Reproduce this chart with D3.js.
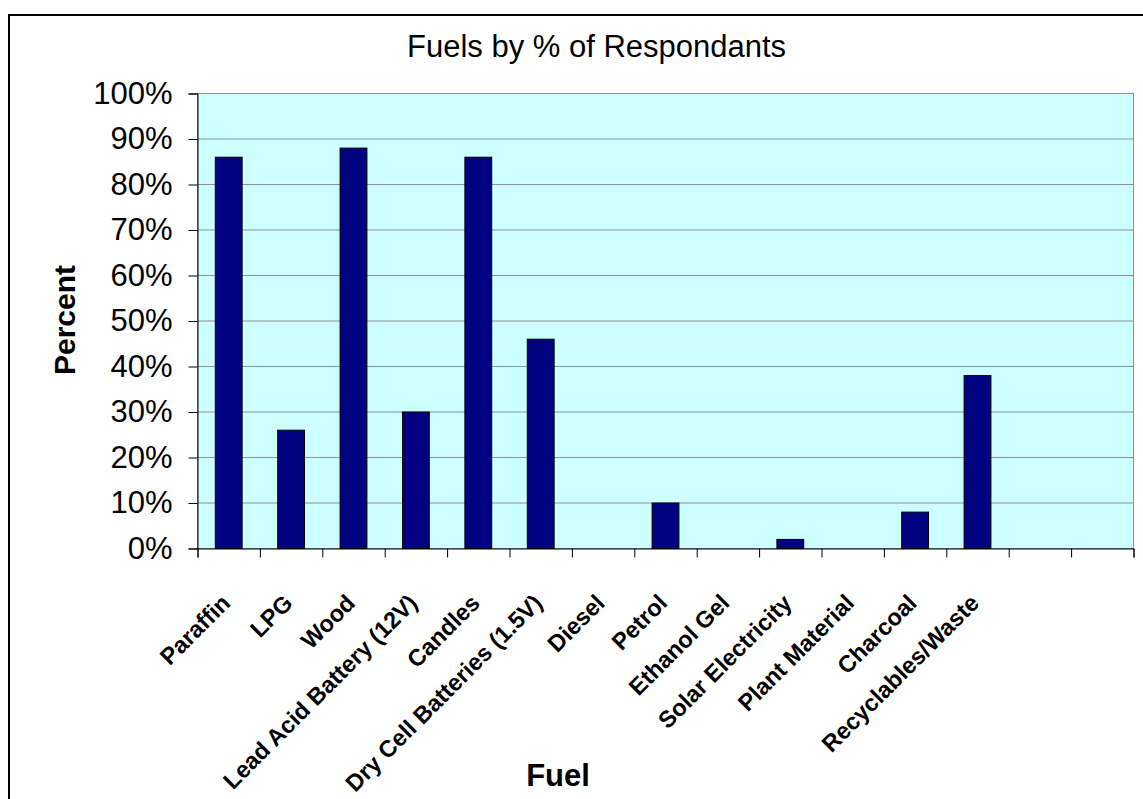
<!DOCTYPE html>
<meta charset="utf-8">
<style>
    body { margin: 0; background: #fff; font-family: Arial, "Liberation Sans", sans-serif; }
    svg { display: block; }
</style>
<script src="https://d3js.org/d3.v7.min.js"></script>
<div id="chart"></div>
<script>

    // data
    var categories = ["Paraffin", "LPG", "Wood", "Lead Acid Battery (12V)", "Candles",
        "Dry Cell Batteries (1.5V)", "Diesel", "Petrol", "Ethanol Gel", "Solar Electricity",
        "Plant Material", "Charcoal", "Recyclables/Waste", "", ""];
    var percents = [86, 26, 88, 30, 86, 46, 0, 10, 0, 2, 0, 8, 38, null, null];
    var yTicks = [0, 10, 20, 30, 40, 50, 60, 70, 80, 90, 100];

    var margin = {top: 93.5, left: 197.5},
        width = 936,
        height = 455;

    var svg = d3.select("#chart").append("svg")
        .attr("width", 1143)
        .attr("height", 799);

    // outer chart frame (runs off the right and bottom)
    svg.append("rect")
        .attr("x", 9).attr("y", 15)
        .attr("width", 1300).attr("height", 900)
        .attr("fill", "none")
        .attr("stroke", "#000")
        .attr("stroke-width", 2);

    svg.append("text")
        .attr("x", 407).attr("y", 57)
        .style("font-size", "31px")
        .text("Fuels by % of Respondants");

    var g = svg.append("g")
        .attr("transform", "translate(" + margin.left + "," + margin.top + ")");

    var idx = d3.range(categories.length);

    var x = d3.scaleBand()
        .domain(idx)
        .range([0, width])
        .paddingInner(0.57)
        .paddingOuter(0.285);

    var slots = d3.scaleLinear().domain([0, categories.length]).range([0, width]);

    var y = d3.scaleLinear().domain([0, 100]).range([height, 0]);

    // plot area
    g.append("rect")
        .attr("width", width).attr("height", height)
        .attr("fill", "#CCFFFF")
        .attr("stroke", "#909090")
        .attr("stroke-width", 1);

    // gridlines
    g.selectAll(".grid")
        .data(yTicks.slice(1))
        .enter().append("line")
        .attr("class", "grid")
        .attr("x1", 0).attr("x2", width)
        .attr("y1", function(d) { return y(d); })
        .attr("y2", function(d) { return y(d); })
        .attr("stroke", "#909090")
        .attr("stroke-width", 1);

    // bars
    g.selectAll(".bar")
        .data(idx.filter(function(i) { return percents[i] != null && percents[i] > 0; }))
        .enter().append("rect")
        .attr("class", "bar")
        .attr("x", function(i) { return x(i); })
        .attr("width", x.bandwidth())
        .attr("y", function(i) { return y(percents[i]); })
        .attr("height", function(i) { return height - y(percents[i]); })
        .attr("fill", "#000080")
        .attr("stroke", "#000")
        .attr("stroke-width", 1);

    // y axis
    var yAxis = g.append("g")
        .call(d3.axisLeft(y).tickValues(yTicks).tickSize(9).tickPadding(16)
            .tickFormat(function(d) { return d + "%"; }));
    yAxis.select(".domain").attr("stroke", "#000");
    yAxis.selectAll("text")
        .style("font-size", "31px")
        .style("font-family", "Arial, 'Liberation Sans', sans-serif")
        .attr("fill", "#000");

    // x axis: ticks between slots
    var xAxis = g.append("g")
        .attr("transform", "translate(0," + height + ")")
        .call(d3.axisBottom(slots).tickValues(d3.range(categories.length + 1))
            .tickSize(9).tickFormat(""));
    xAxis.select(".domain").attr("stroke", "#000");

    // rotated category labels
    g.selectAll(".cat")
        .data(idx.filter(function(i) { return categories[i] !== ""; }))
        .enter().append("text")
        .attr("class", "cat")
        .attr("transform", function(i) {
            return "translate(" + (x(i) + x.bandwidth() / 2 + 3) + "," + (height + 56) + ") rotate(-45)";
        })
        .attr("text-anchor", "end")
        .style("font-size", "23.5px")
        .style("font-weight", "bold")
        .text(function(i) { return categories[i]; });

    // axis titles
    svg.append("text")
        .attr("transform", "translate(75,320) rotate(-90)")
        .attr("text-anchor", "middle")
        .style("font-size", "30px")
        .style("font-weight", "bold")
        .text("Percent");

    svg.append("text")
        .attr("x", 558).attr("y", 786)
        .attr("text-anchor", "middle")
        .style("font-size", "31px")
        .style("font-weight", "bold")
        .text("Fuel");

</script>
